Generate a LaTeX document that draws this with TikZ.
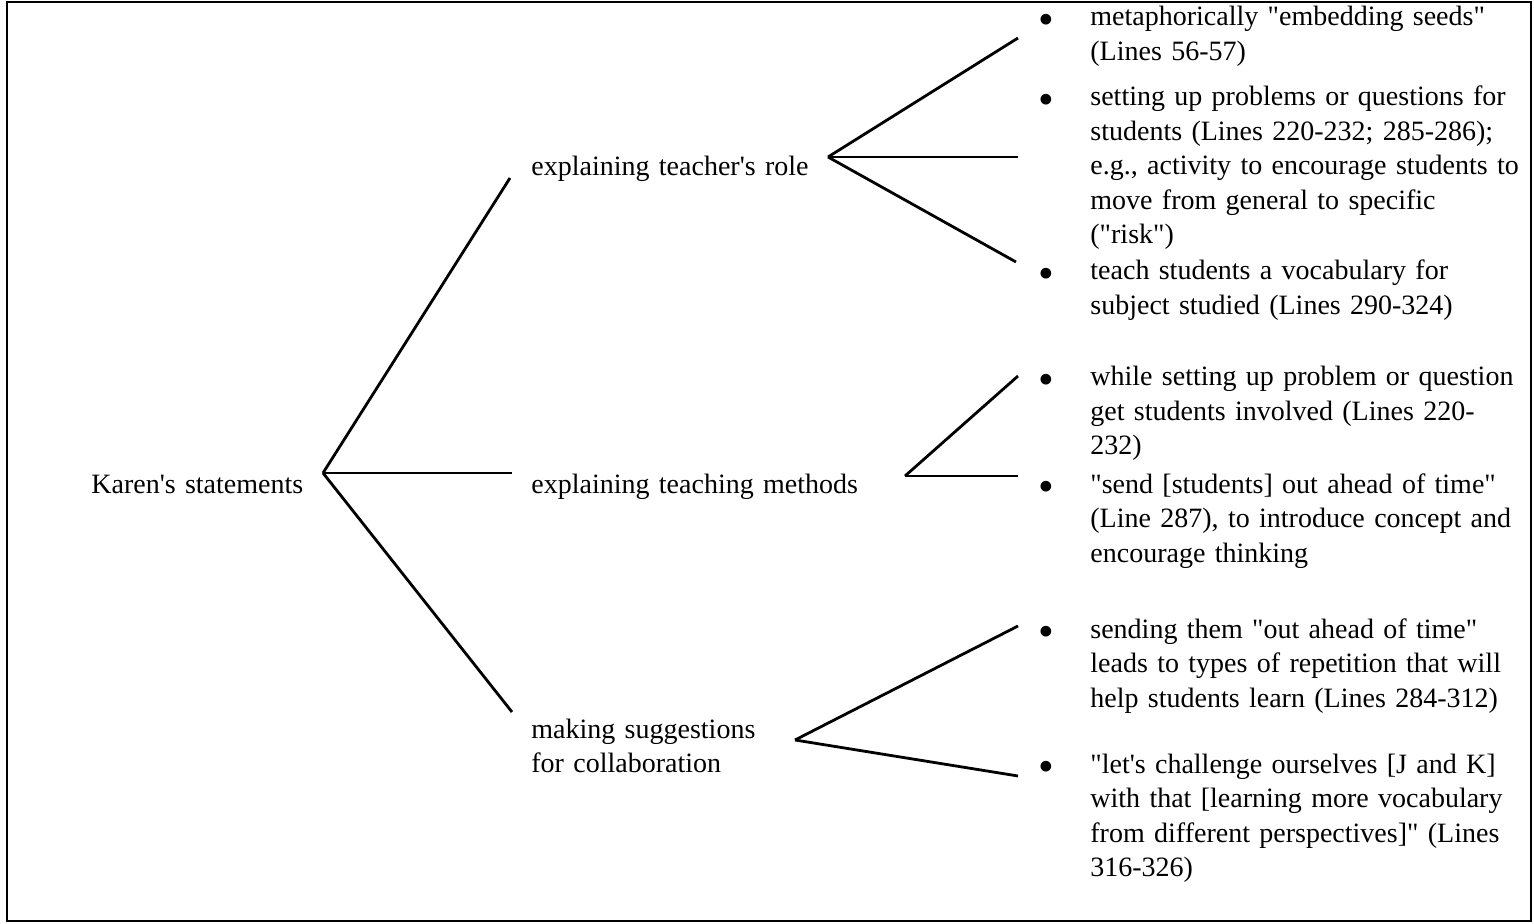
\documentclass[tikz,border=0pt]{standalone}
\usepackage{fontspec}
\setmainfont{Liberation Serif}
\newcommand\bul{\leavevmode\llap{\raisebox{-4.3pt}{\scalebox{1.6}{\textbullet}}\hspace{18pt}}}
\newcommand\dq{\textquotedbl}

\begin{document}
\begin{tikzpicture}[x=0.5pt, y=-0.5pt, line width=1.4pt, every node/.style={font=\fontsize{14}{17.25}\selectfont, inner sep=0pt}, topic/.style={anchor=base west, text width=170pt, align=left}, itm/.style={anchor=base west, text width=240pt, align=left}]
	\useasboundingbox (0,0) rectangle (1534,924);
	\draw[line width=1.1pt] (7,2) rectangle (1531,921);
	\node[topic] (root) at (90,493) {Karen\textquotesingle s statements};
	\node[topic] (role) at (530,176) {explaining teacher\textquotesingle s role};
	\node[topic] (meth) at (530,493) {explaining teaching methods};
	\node[topic] (coll) at (530,738) {making suggestions\\for collaboration};
	\node[itm] (seeds) at (1089,26) {\bul metaphorically \dq embedding seeds\dq\\(Lines 56-57)};
	\node[itm] (probs) at (1089,106) {\bul setting up problems or questions for\\students (Lines 220-232; 285-286);\\e.g., activity to encourage students to\\move from general to specific\\(\dq risk\dq)};
	\node[itm] (vocab) at (1089,280) {\bul teach students a vocabulary for\\subject studied (Lines 290-324)};
	\node[itm] (invol) at (1089,386) {\bul while setting up problem or question\\get students involved (Lines 220-\\232)};
	\node[itm] (ahead) at (1089,493) {\bul \dq send [students] out ahead of time\dq\\(Line 287), to introduce concept and\\encourage thinking};
	\node[itm] (repet) at (1089,638) {\bul sending them \dq out ahead of time\dq\\leads to types of repetition that will\\help students learn (Lines 284-312)};
	\node[itm] (chall) at (1089,773) {\bul \dq let\textquotesingle s challenge ourselves [J and K]\\with that [learning more vocabulary\\from different perspectives]\dq\ (Lines\\316-326)};
	% forks and free ends
	\coordinate (rootF) at (323,473);
	\coordinate (roleE) at (510,178);
	\coordinate (methE) at (512,473);
	\coordinate (collE) at (512,712);
	\coordinate (roleF) at (828,157);
	\coordinate (seedsE) at (1018,38);
	\coordinate (probsE) at (1018,157);
	\coordinate (vocabE) at (1016,262);
	\coordinate (methF) at (905,476);
	\coordinate (involE) at (1018,376);
	\coordinate (aheadE) at (1018,476);
	\coordinate (collF) at (795,740);
	\coordinate (repetE) at (1018,626);
	\coordinate (challE) at (1018,776);
	\foreach \f/\e in {rootF/roleE, rootF/methE, rootF/collE, roleF/seedsE, roleF/probsE, roleF/vocabE, methF/involE, methF/aheadE, collF/repetE, collF/challE}
		\draw (\f) -- (\e);
\end{tikzpicture}
\end{document}
